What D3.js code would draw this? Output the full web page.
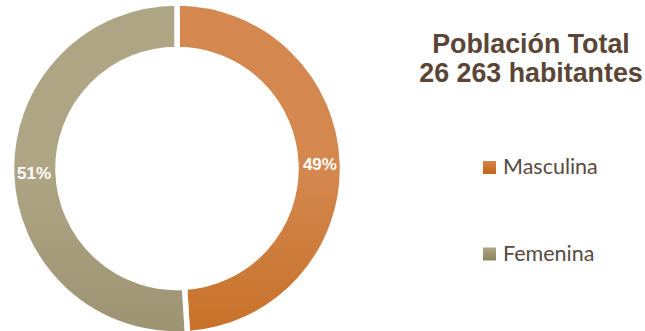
<!DOCTYPE html>
<html>
<head>
<meta charset="utf-8">
<script src="https://cdn.jsdelivr.net/npm/d3@7"></script>
<style>
  html, body { margin: 0; padding: 0; background: #ffffff; }
  svg { display: block; }
</style>
</head>
<body>
<svg id="chart" width="645" height="331"></svg>
<script>
// Población por sexo
const categories = ["Masculina", "Femenina"];
const values = [49, 51];
const valueLabels = ["49%", "51%"];
const titleLines = ["Población Total", "26 263 habitantes"];

// Gradient stops per slice: top, middle, bottom
const colorStops = [
  ["#d4874e", "#c8732c", "#bf6316"],
  ["#aea585", "#9e9575", "#8d835e"]
];

const width = 645, height = 331;
const cx = 177, cy = 168.5;
const outerR = 165.5, innerR = 119;

const svg = d3.select("#chart");
const defs = svg.append("defs");

function addGradient(id, stops, userSpace) {
  const g = defs.append("linearGradient").attr("id", id);
  if (userSpace) {
    g.attr("gradientUnits", "userSpaceOnUse")
      .attr("x1", 0).attr("y1", cy - outerR)
      .attr("x2", 0).attr("y2", cy + outerR);
  } else {
    g.attr("x1", 0).attr("y1", 0).attr("x2", 0).attr("y2", 1);
  }
  const offsets = stops.length === 3 ? [0, 45, 100] : [0, 100];
  stops.forEach((c, k) => {
    g.append("stop").attr("offset", offsets[k] + "%").attr("stop-color", c);
  });
}
categories.forEach((c, i) => {
  addGradient("grad" + i, colorStops[i], true);
  addGradient("lgrad" + i, [colorStops[i][0], colorStops[i][2]], false);
});

const pie = d3.pie().sort(null).value(d => d);
const arcs = pie(values);
const arc = d3.arc().innerRadius(innerR).outerRadius(outerR);
const labelArc = d3.arc().innerRadius(143).outerRadius(143);

const donut = svg.append("g").attr("transform", `translate(${cx},${cy})`);

donut.selectAll("path.slice")
  .data(arcs)
  .join("path")
  .attr("class", "slice")
  .attr("d", arc)
  .attr("fill", (d, i) => `url(#grad${i})`)
  .attr("stroke", "#ffffff")
  .attr("stroke-width", 5.5)
  .attr("stroke-linejoin", "miter");

donut.selectAll("text.pct")
  .data(arcs)
  .join("text")
  .attr("class", "pct")
  .attr("transform", d => { const [x, y] = labelArc.centroid(d); return `translate(${x},${y})`; })
  .attr("text-anchor", "middle")
  .attr("dy", "0.36em")
  .attr("font-family", "'Liberation Sans', Arial, sans-serif")
  .attr("font-weight", "bold")
  .attr("font-size", 17)
  .attr("fill", "#ffffff")
  .text((d, i) => valueLabels[i]);

// Title
svg.append("g").selectAll("text")
  .data(titleLines)
  .join("text")
  .attr("x", 531)
  .attr("y", (d, i) => 53 + i * 28.7)
  .attr("text-anchor", "middle")
  .attr("font-family", "'Liberation Sans', Arial, sans-serif")
  .attr("font-weight", "bold")
  .attr("font-size", 26.8)
  .attr("fill", "#5a4536")
  .text(d => d);

// Legend
const legendY = d3.scalePoint().domain(categories).range([174, 260.5]);
const legend = svg.append("g").selectAll("g")
  .data(categories)
  .join("g")
  .attr("transform", d => `translate(483,${legendY(d)})`);

legend.append("rect")
  .attr("x", 0).attr("y", -13)
  .attr("width", 13).attr("height", 13)
  .attr("fill", (d, i) => `url(#lgrad${i})`);

legend.append("text")
  .attr("x", 20).attr("y", 0)
  .attr("font-family", "Lato, 'Open Sans', sans-serif")
  .attr("font-size", 21.5)
  .attr("fill", "#584a40")
  .text(d => d);
</script>
</body>
</html>
